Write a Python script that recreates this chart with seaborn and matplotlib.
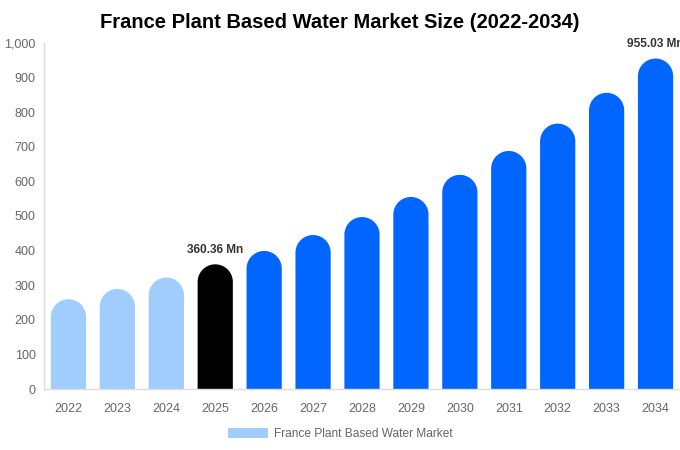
import matplotlib
matplotlib.use("Agg")
import numpy as np
import matplotlib.pyplot as plt
from matplotlib.patches import Patch, Polygon
import seaborn as sns
import pandas as pd

years = ["2022", "2023", "2024", "2025", "2026", "2027", "2028",
         "2029", "2030", "2031", "2032", "2033", "2034"]
values = [259.5, 289.0, 322.0, 360.36, 399.0, 445.0, 497.0,
          555.0, 619.0, 688.0, 767.0, 856.0, 955.03]
phase = ["past", "past", "past", "now", "future", "future", "future",
         "future", "future", "future", "future", "future", "future"]
labelled = {"2025": "360.36 Mn", "2034": "955.03 Mn"}
legend_label = "France Plant Based Water Market"

palette = {"past": "#a0cdfd", "now": "#000000", "future": "#0066ff"}

df = pd.DataFrame({"year": years, "value": values, "phase": phase})

sns.set_theme(style="white")
plt.rcParams["font.family"] = ["Liberation Sans", "DejaVu Sans"]

fig = plt.figure(figsize=(6.8, 4.5), dpi=100)
ax = fig.add_axes([44 / 680, 1 - 389 / 450, 636 / 680, 346 / 450])

sns.barplot(data=df, x="year", y="value", hue="phase", palette=palette,
            width=0.72, dodge=False, legend=False, ax=ax, saturation=1)

ax.set_ylim(0, 1000)
ax.set_xlim(-0.5, len(years) - 0.5)

# swap each seaborn bar for a shape with a round top (radius = half width in pixels)
fig.canvas.draw()
bbox = ax.get_window_extent()
px_per_x = bbox.width / len(years)
px_per_y = bbox.height / 1000.0
bars = list(ax.patches)
for p in bars:
    x0, w, h = p.get_x(), p.get_width(), p.get_height()
    if h <= 0:
        continue
    r_y = (w * px_per_x / 2) / px_per_y
    cx, cy = x0 + w / 2, h - r_y
    t = np.linspace(0, np.pi, 60)
    arc = np.column_stack([cx + (w / 2) * np.cos(t), cy + r_y * np.sin(t)])
    pts = np.vstack([[x0 + w, 0], arc, [x0, 0]])
    ax.add_patch(Polygon(pts, closed=True, facecolor=p.get_facecolor(),
                         edgecolor="none", linewidth=0))
    p.remove()

for i, yr in enumerate(years):
    if yr in labelled:
        ax.text(i, values[i] + 24, labelled[yr], ha="center", va="bottom",
                fontsize=8.6, fontweight="bold", color="#333333", clip_on=False)

ax.set_xlabel("")
ax.set_ylabel("")
ax.set_yticks(range(0, 1001, 100))
ax.set_yticklabels([f"{v:,}" for v in range(0, 1001, 100)])
ax.tick_params(axis="both", labelsize=9, colors="#666666", length=0)
ax.tick_params(axis="x", pad=10)
ax.tick_params(axis="y", pad=6)
for s in ["top", "right"]:
    ax.spines[s].set_visible(False)
for s in ["left", "bottom"]:
    ax.spines[s].set_color("#dddddd")
    ax.spines[s].set_linewidth(1)
ax.grid(False)

fig.text(0.5, 1 - 22 / 450, "France Plant Based Water Market Size (2022-2034)",
         ha="center", va="center", fontsize=14.5, fontweight="bold", color="#000000")

handle = Patch(facecolor=palette["past"], edgecolor="none")
fig.legend([handle], [legend_label], loc="center", bbox_to_anchor=(0.5, 1 - 434 / 450),
           frameon=False, fontsize=8.6, handlelength=3.35, handleheight=0.95,
           labelcolor="#666666", handletextpad=0.5)

fig.savefig("out.png", dpi=100)
